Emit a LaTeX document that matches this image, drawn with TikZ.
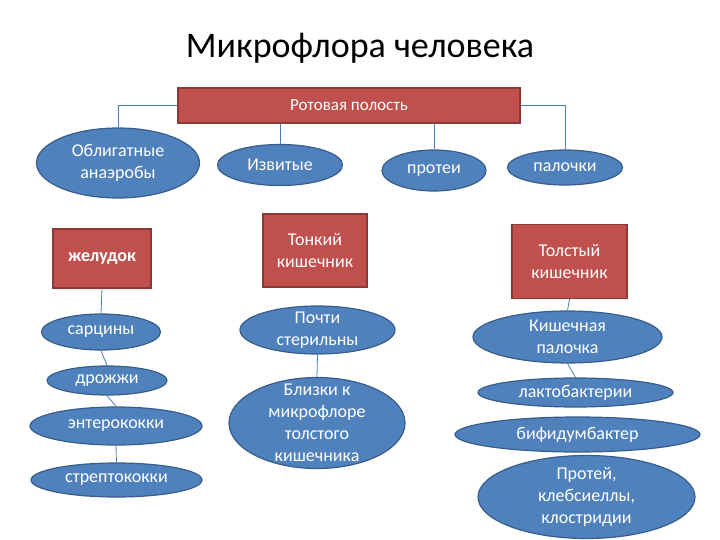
\documentclass[tikz,border=0pt]{standalone}
\usepackage{fontspec}
\setmainfont{Carlito}
\usetikzlibrary{shapes.geometric}
\definecolor{eblue}{HTML}{4F81BD}
\definecolor{eborder}{HTML}{385D8A}
\definecolor{rred}{HTML}{C0504D}
\definecolor{rborder}{HTML}{8C3836}
\definecolor{conn}{HTML}{4A7EBB}
\tikzset{
  oval/.style={ellipse, fill=eblue, draw=eborder, line width=1.2pt, inner xsep=0pt, inner ysep=-20pt, text=white, align=center, font=\fontsize{18}{22}\selectfont},
  box/.style={rectangle, fill=rred, draw=rborder, line width=1.2pt, inner sep=0pt, text=white, align=center, font=\fontsize{18}{22}\selectfont},
  link/.style={draw=conn, line width=0.8pt},
}
\begin{document}
\begin{tikzpicture}[x=1pt,y=-1pt]
\useasboundingbox (0,0) rectangle (720,540);
\node[font=\fontsize{36}{40}\selectfont, anchor=base] (title) at (360,58) {Микрофлора человека};
\node[box, minimum width=342pt, minimum height=35pt, font=\fontsize{17}{19}\selectfont] (oral) at (349,105.5) {Ротовая полость};

\node[oval, minimum width=163pt, minimum height=70pt] (obl) at (118,163) {Облигатные\\анаэробы};
\node[oval, minimum width=125pt, minimum height=41pt] (izv) at (280,165) {Извитые};
\node[oval, minimum width=104pt, minimum height=41pt] (prot) at (434,170.5) {протеи};
\node[oval, minimum width=115pt, minimum height=35pt] (pal) at (565,167.5) {палочки};

\node[box, minimum width=98pt, minimum height=59pt, font=\fontsize{18}{22}\selectfont\bfseries] (stom) at (102,258.5) {желудок};
\node[box, minimum width=104pt, minimum height=73pt] (small) at (315,250.5) {Тонкий\\кишечник};
\node[box, minimum width=115pt, minimum height=74pt] (large) at (569.5,261.5) {Толстый\\кишечник};

\node[oval, minimum width=119pt, minimum height=36pt] (sarc) at (101,332) {сарцины};
\node[oval, minimum width=120pt, minimum height=29pt] (yeast) at (107,380.5) {дрожжи};
\node[oval, minimum width=172pt, minimum height=38pt] (entero) at (116,426) {энтерококки};
\node[oval, minimum width=171pt, minimum height=34pt] (strep) at (116.5,480) {стрептококки};

\node[oval, minimum width=155pt, minimum height=48pt] (ster) at (317.5,330) {Почти\\стерильны};
\node[oval, minimum width=176pt, minimum height=91pt] (close) at (317,423) {Близки к\\микрофлоре\\толстого\\кишечника};

\node[oval, minimum width=189pt, minimum height=52pt] (ecoli) at (567.5,337) {Кишечная\\палочка};
\node[oval, minimum width=195pt, minimum height=29pt] (lacto) at (575.5,392.5) {лактобактерии};
\node[oval, minimum width=245pt, minimum height=35pt] (bifid) at (577.5,434.5) {бифидумбактер};
\node[oval, minimum width=217pt, minimum height=83pt] (proteus) at (586.5,497) {Протей,\\клебсиеллы,\\клостридии};

% connectors
\draw[link] (oral.west) -| (obl.north);
\draw[link] (izv.north |- oral.south) -- (izv.north);
\draw[link] (prot.north |- oral.south) -- (prot.north);
\draw[link] (oral.east) -| (pal.north);
\draw[link] (stom.south) -- (sarc.north);
\draw[link] (sarc.south) -- (yeast.north);
\draw[link] (yeast.south) -- (entero.north);
\draw[link] (entero.south) -- (strep.north);
\draw[link] (ster.south) -- (close.north);
\draw[link] (large.south) -- (ecoli.north);
\draw[link] (ecoli.south) -- (lacto.north);
\end{tikzpicture}
\end{document}
